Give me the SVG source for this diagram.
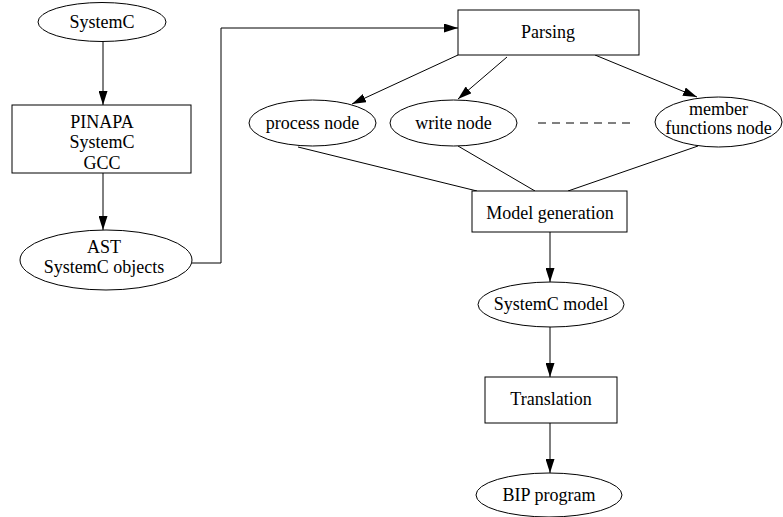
<svg xmlns="http://www.w3.org/2000/svg" width="783" height="517" viewBox="0 0 783 517">
  <style>
    .shape { fill: #ffffff; stroke: #000000; stroke-width: 1; }
    .edge { fill: none; stroke: #000000; stroke-width: 1; }
    .label { font-family: "Liberation Serif", "Times New Roman", serif; font-size: 18px; fill: #000000; text-anchor: middle; }
  </style>
  <defs>
    <marker id="arrow" markerUnits="userSpaceOnUse" markerWidth="14" markerHeight="9" refX="14" refY="4.5" orient="auto">
      <path d="M0,0 L14,4.5 L0,9 z" fill="#000000"/>
    </marker>
  </defs>
  <rect width="783" height="517" fill="#ffffff"/>

  <g id="connectors">
    <line class="edge" x1="103" y1="42" x2="103" y2="105" marker-end="url(#arrow)"/>
    <line class="edge" x1="103" y1="173" x2="103" y2="230" marker-end="url(#arrow)"/>
    <polyline class="edge" points="192,263 221,263 221,28 458,28" marker-end="url(#arrow)"/>
    <line class="edge" x1="458" y1="55" x2="352" y2="104" marker-end="url(#arrow)"/>
    <line class="edge" x1="507" y1="57" x2="458" y2="99" marker-end="url(#arrow)"/>
    <line class="edge" x1="595" y1="55" x2="697" y2="97" marker-end="url(#arrow)"/>
    <line class="edge" x1="298" y1="147" x2="477" y2="191"/>
    <line class="edge" x1="458" y1="146" x2="535" y2="191"/>
    <line class="edge" x1="698" y1="146" x2="568" y2="191"/>
    <line class="edge" x1="538" y1="123" x2="630" y2="123" stroke-dasharray="8 6"/>
    <line class="edge" x1="550" y1="232" x2="550" y2="282" marker-end="url(#arrow)"/>
    <line class="edge" x1="550" y1="327" x2="550" y2="377" marker-end="url(#arrow)"/>
    <line class="edge" x1="550" y1="423" x2="550" y2="473" marker-end="url(#arrow)"/>
  </g>

  <g id="systemc">
    <ellipse class="shape" cx="102" cy="22" rx="64" ry="19.5"/>
    <text class="label" x="102" y="28">SystemC</text>
  </g>

  <g id="pinapa">
    <rect class="shape" x="12" y="105" width="179" height="68"/>
    <text class="label" x="102" y="128">PINAPA</text>
    <text class="label" x="102" y="148">SystemC</text>
    <text class="label" x="102" y="169">GCC</text>
  </g>

  <g id="ast">
    <ellipse class="shape" cx="106" cy="260" rx="86" ry="30"/>
    <text class="label" x="104" y="253">AST</text>
    <text class="label" x="104" y="273">SystemC objects</text>
  </g>

  <g id="parsing">
    <rect class="shape" x="458" y="10" width="181" height="45"/>
    <text class="label" x="548" y="38">Parsing</text>
  </g>

  <g id="process-node">
    <ellipse class="shape" cx="312.5" cy="123" rx="63.5" ry="23"/>
    <text class="label" x="312.5" y="129">process node</text>
  </g>

  <g id="write-node">
    <ellipse class="shape" cx="453.5" cy="123" rx="63.5" ry="23"/>
    <text class="label" x="453.5" y="129">write node</text>
  </g>

  <g id="member-functions-node">
    <ellipse class="shape" cx="718.5" cy="122" rx="63.5" ry="25"/>
    <text class="label" x="718.5" y="115">member</text>
    <text class="label" x="718.5" y="134">functions node</text>
  </g>

  <g id="model-generation">
    <rect class="shape" x="472" y="191" width="155" height="41"/>
    <text class="label" x="550" y="219">Model generation</text>
  </g>

  <g id="systemc-model">
    <ellipse class="shape" cx="551" cy="304.5" rx="73" ry="22.5"/>
    <text class="label" x="551" y="310">SystemC model</text>
  </g>

  <g id="translation">
    <rect class="shape" x="485" y="377" width="132" height="46"/>
    <text class="label" x="551" y="405">Translation</text>
  </g>

  <g id="bip-program">
    <ellipse class="shape" cx="549" cy="495" rx="73" ry="22"/>
    <text class="label" x="549" y="501">BIP program</text>
  </g>
</svg>
